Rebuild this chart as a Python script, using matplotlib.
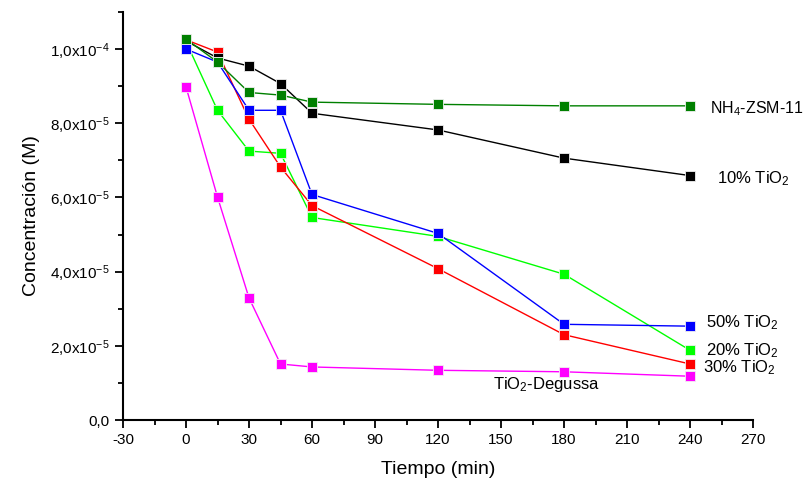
import numpy as np
import matplotlib.pyplot as plt
from matplotlib.ticker import MultipleLocator, FixedLocator

plt.rcParams['font.family'] = ['Liberation Sans', 'DejaVu Sans']
plt.rcParams['mathtext.fontset'] = 'custom'
plt.rcParams['mathtext.rm'] = 'Liberation Sans'
plt.rcParams['mathtext.it'] = 'Liberation Sans'
plt.rcParams['axes.unicode_minus'] = False

# tiempo (min)
tiempo = [0, 15, 30, 45, 60, 120, 180, 240]

# concentraciones (M)
nh4_zsm11 = [1.027e-4, 0.965e-4, 0.883e-4, 0.876e-4, 0.857e-4, 0.851e-4, 0.847e-4, 0.847e-4]
tio2_10 = [1.022e-4, 0.976e-4, 0.954e-4, 0.907e-4, 0.827e-4, 0.782e-4, 0.706e-4, 0.659e-4]
tio2_50 = [1.000e-4, 0.965e-4, 0.835e-4, 0.835e-4, 0.608e-4, 0.503e-4, 0.258e-4, 0.253e-4]
tio2_30 = [1.025e-4, 0.992e-4, 0.811e-4, 0.682e-4, 0.578e-4, 0.408e-4, 0.230e-4, 0.151e-4]
tio2_20 = [1.020e-4, 0.835e-4, 0.725e-4, 0.719e-4, 0.546e-4, 0.495e-4, 0.393e-4, 0.188e-4]
degussa = [0.898e-4, 0.601e-4, 0.329e-4, 0.151e-4, 0.143e-4, 0.134e-4, 0.130e-4, 0.118e-4]

y_ticks = [0, 2e-5, 4e-5, 6e-5, 8e-5, 1e-4]
y_labels = ['0,0', r'2,0x10$^{-5}$', r'4,0x10$^{-5}$', r'6,0x10$^{-5}$',
            r'8,0x10$^{-5}$', r'1,0x10$^{-4}$']

series = [
    (degussa, '#ff00ff'),
    (tio2_20, '#00ff00'),
    (tio2_30, '#ff0000'),
    (tio2_10, '#000000'),
    (tio2_50, '#0000ff'),
    (nh4_zsm11, '#008000'),
]

fig = plt.figure(figsize=(8.04, 4.8), dpi=100)
ax = fig.add_axes([0.153, 0.125, 0.7836, 0.85])

for vals, col in series:
    ax.plot(tiempo, vals, color=col, lw=1.0, marker='s', ms=7,
            mec='#f0f0f0', mew=0.6, mfc=col)

ax.set_xlim(-30, 270)
ax.set_ylim(0, 1.1e-4)
ax.xaxis.set_major_locator(MultipleLocator(30))
ax.xaxis.set_minor_locator(MultipleLocator(15))
ax.yaxis.set_major_locator(FixedLocator(y_ticks))
ax.yaxis.set_minor_locator(MultipleLocator(1e-5))
ax.set_yticklabels(y_labels)

for s in ['top', 'right']:
    ax.spines[s].set_visible(False)
for s in ['left', 'bottom']:
    ax.spines[s].set_linewidth(1.5)
ax.tick_params(which='major', length=6, width=1.3, labelsize=11)
ax.tick_params(which='minor', length=3.5, width=1.3)

ax.set_xlabel('Tiempo (min)', fontsize=14, labelpad=10)
ax.set_ylabel('Concentración (M)', fontsize=14, labelpad=7)

fs = 12
ax.text(249.5, 0.84e-4, r'NH$_4$-ZSM-11', fontsize=11.5, va='center')
ax.text(253, 0.652e-4, r'10% TiO$_2$', fontsize=fs, va='center')
ax.text(247.5, 0.262e-4, r'50% TiO$_2$', fontsize=fs, va='center')
ax.text(247.5, 0.186e-4, r'20% TiO$_2$', fontsize=fs, va='center')
ax.text(246, 0.14e-4, r'30% TiO$_2$', fontsize=fs, va='center')
ax.text(146, 0.095e-4, r'TiO$_2$-Degussa', fontsize=fs, va='center')

fig.savefig('out.png', dpi=100)
